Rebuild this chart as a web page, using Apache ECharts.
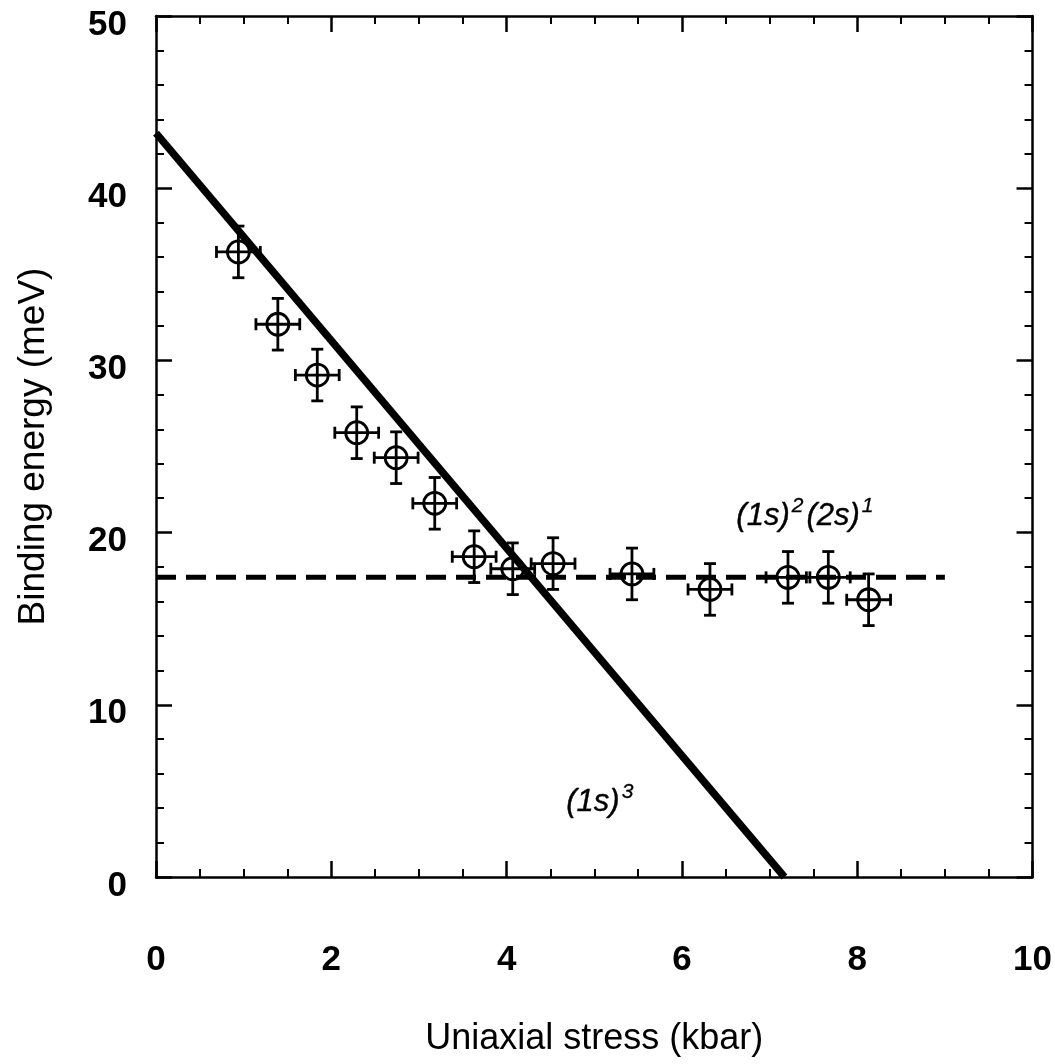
<!DOCTYPE html>
<html>
<head>
<meta charset="utf-8">
<title>Binding energy vs uniaxial stress</title>
<script src="https://cdn.jsdelivr.net/npm/echarts@6/dist/echarts.min.js"></script>
<style>
  html, body { margin: 0; padding: 0; background: #fff; }
  #chart { width: 1055px; height: 1064px; }
</style>
</head>
<body>
<div id="chart"></div>
<script>
// Measured binding energies (meV) against uniaxial stress (kbar)
const stress = [0.94, 1.39, 1.84, 2.29, 2.74, 3.18, 3.63, 4.07, 4.53, 5.43, 6.32, 7.21, 7.67, 8.13];
const energy = [36.3, 32.1, 29.15, 25.8, 24.35, 21.7, 18.6, 17.9, 18.2, 17.6, 16.7, 17.4, 17.4, 16.1];
const stressErr = [0.25, 0.25, 0.25, 0.25, 0.25, 0.25, 0.25, 0.25, 0.25, 0.25, 0.25, 0.25, 0.25, 0.25];
const energyErr = [1.5, 1.5, 1.5, 1.5, 1.5, 1.5, 1.5, 1.5, 1.5, 1.5, 1.5, 1.5, 1.5, 1.5];

// (1s)^3 state: linear decrease with stress
const line1s3 = [[0, 43.2], [7.17, 0]];
// (1s)^2(2s)^1 state: constant level
const line2s = [[0, 17.4], [9.0, 17.4]];

// Annotation anchors in data units
const label2s = [7.42, 21.1];
const label1s = [5.08, 4.5];

const xTicks = { min: 0, max: 10, interval: 2 };
const yTicks = { min: 0, max: 50, interval: 10 };

const points = stress.map((x, i) => [x, energy[i], stressErr[i], energyErr[i]]);

const FONT = '"Liberation Sans", Arial, Helvetica, sans-serif';
const INK = '#000';

function frameAxis(base, extra) {
  return Object.assign({
    type: 'value',
    min: base.min, max: base.max, interval: base.interval,
    axisLine: { show: true, onZero: false, lineStyle: { color: INK, width: 2.5 } },
    axisTick: { show: true, inside: true, length: 16, lineStyle: { color: INK, width: 2.5 } },
    splitLine: { show: false },
    minorSplitLine: { show: false }
  }, extra);
}

const chart = echarts.init(document.getElementById('chart'), null, { renderer: 'canvas' });

chart.setOption({
  animation: false,
  backgroundColor: '#fff',
  grid: { left: 156, top: 16, right: 22, bottom: 187 },
  xAxis: [
    frameAxis(xTicks, {
      position: 'bottom',
      minorTick: { show: true, splitNumber: 4, length: 8, lineStyle: { color: INK, width: 2 } },
      axisLabel: { show: true, margin: 66, color: INK, fontFamily: FONT, fontSize: 35, fontWeight: 'bold' },
      name: 'Uniaxial stress (kbar)',
      nameLocation: 'middle',
      nameGap: 144,
      nameTextStyle: { color: INK, fontFamily: FONT, fontSize: 36 }
    }),
    frameAxis(xTicks, {
      position: 'top',
      minorTick: { show: true, splitNumber: 4, length: 8, lineStyle: { color: INK, width: 2 } },
      axisLabel: { show: false }
    })
  ],
  yAxis: [
    frameAxis(yTicks, {
      position: 'left',
      minorTick: { show: true, splitNumber: 5, length: 8, lineStyle: { color: INK, width: 2 } },
      axisLabel: {
        show: true, margin: 29, color: INK, fontFamily: FONT, fontSize: 35, fontWeight: 'bold',
        verticalAlign: 'top', lineHeight: 18
      },
      name: 'Binding energy (meV)',
      nameLocation: 'middle',
      nameGap: 104,
      nameTextStyle: { color: INK, fontFamily: FONT, fontSize: 37 }
    }),
    frameAxis(yTicks, {
      position: 'right',
      minorTick: { show: true, splitNumber: 5, length: 8, lineStyle: { color: INK, width: 2 } },
      axisLabel: { show: false }
    })
  ],
  series: [
    {
      name: '(1s)^3',
      type: 'line',
      data: line1s3,
      symbol: 'none',
      lineStyle: { color: INK, width: 7.5 },
      z: 3
    },
    {
      name: '(1s)^2(2s)^1',
      type: 'line',
      data: line2s,
      symbol: 'none',
      lineStyle: { color: INK, width: 5, type: [20, 10] },
      z: 3
    },
    {
      name: 'error bars',
      type: 'custom',
      data: points,
      z: 4,
      renderItem: function (params, api) {
        const x = api.value(0), y = api.value(1), ex = api.value(2), ey = api.value(3);
        const c = api.coord([x, y]);
        const top = api.coord([x, y + ey]);
        const bot = api.coord([x, y - ey]);
        const lft = api.coord([x - ex, y]);
        const rgt = api.coord([x + ex, y]);
        const cap = 6;
        const style = { stroke: INK, lineWidth: 2.8, fill: null };
        const seg = (x1, y1, x2, y2) => ({ type: 'line', shape: { x1, y1, x2, y2 }, style });
        return {
          type: 'group',
          children: [
            seg(c[0], top[1], c[0], bot[1]),
            seg(c[0] - cap, top[1], c[0] + cap, top[1]),
            seg(c[0] - cap, bot[1], c[0] + cap, bot[1]),
            seg(lft[0], c[1], rgt[0], c[1]),
            seg(lft[0], c[1] - cap, lft[0], c[1] + cap),
            seg(rgt[0], c[1] - cap, rgt[0], c[1] + cap)
          ]
        };
      }
    },
    {
      name: 'data',
      type: 'scatter',
      data: points.map(p => [p[0], p[1]]),
      symbol: 'circle',
      symbolSize: 22,
      itemStyle: { color: 'rgba(0,0,0,0)', borderColor: INK, borderWidth: 2.8, opacity: 1 },
      z: 5
    },
    {
      name: 'labels',
      type: 'scatter',
      data: [
        { value: label2s, label: { formatter: '{a|(1s)}{s|2}{a|(2s)}{s|1}' } },
        { value: label1s, label: { formatter: '{a|(1s)}{s|3}' } }
      ],
      symbolSize: 0,
      silent: true,
      itemStyle: { opacity: 1 },
      label: {
        show: true,
        position: 'inside',
        color: INK,
        opacity: 1,
        rich: {
          a: { fontFamily: FONT, fontSize: 31, fontStyle: 'italic', color: INK, lineHeight: 36, verticalAlign: 'bottom',
               textBorderColor: INK, textBorderWidth: 0.4 },
          s: { fontFamily: FONT, fontSize: 21, fontStyle: 'italic', color: INK, lineHeight: 36, verticalAlign: 'top',
               padding: [0, 3, 10, 2], textBorderColor: INK, textBorderWidth: 0.3 }
        }
      },
      z: 6
    }
  ]
});
</script>
</body>
</html>
